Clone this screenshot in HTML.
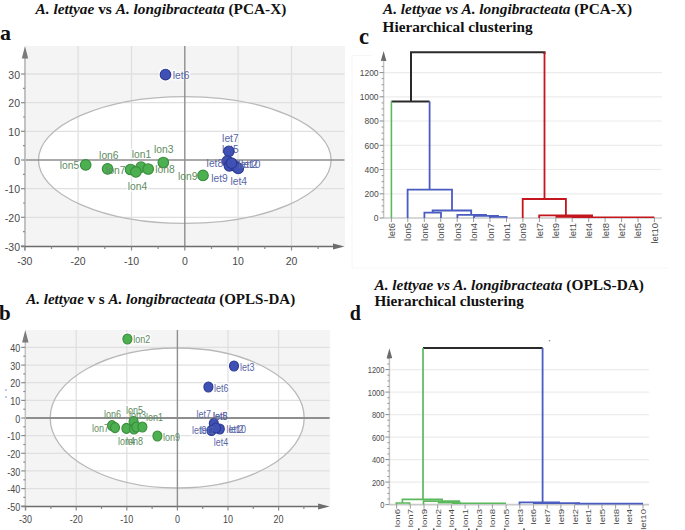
<!DOCTYPE html>
<html><head><meta charset="utf-8"><style>
html,body{margin:0;padding:0;background:#fff;}
svg{display:block;}
.tk{font-family:"Liberation Sans",sans-serif;fill:#4a4a4a;}
.pl{font-family:"Liberation Sans",sans-serif;}
.tt{font-family:"Liberation Serif",serif;font-weight:bold;fill:#111;}
.lab{font-family:"Liberation Serif",serif;font-weight:bold;fill:#111;}
</style></head><body>
<svg width="685" height="530" viewBox="0 0 685 530">
<rect x="25" y="46" width="320.0" height="200.5" fill="#f4f4f4"/>
<ellipse cx="184.8" cy="160" rx="146.3" ry="63.4" fill="#ffffff"/>
<line x1="78.1" y1="46" x2="78.1" y2="246.5" stroke="#e0e0e0" stroke-width="1.3"/>
<line x1="131.5" y1="46" x2="131.5" y2="246.5" stroke="#e0e0e0" stroke-width="1.3"/>
<line x1="238.1" y1="46" x2="238.1" y2="246.5" stroke="#e0e0e0" stroke-width="1.3"/>
<line x1="291.5" y1="46" x2="291.5" y2="246.5" stroke="#e0e0e0" stroke-width="1.3"/>
<line x1="25" y1="74.0" x2="344.5" y2="74.0" stroke="#e0e0e0" stroke-width="1.3"/>
<line x1="25" y1="102.7" x2="344.5" y2="102.7" stroke="#e0e0e0" stroke-width="1.3"/>
<line x1="25" y1="131.3" x2="344.5" y2="131.3" stroke="#e0e0e0" stroke-width="1.3"/>
<line x1="25" y1="188.7" x2="344.5" y2="188.7" stroke="#e0e0e0" stroke-width="1.3"/>
<line x1="25" y1="217.3" x2="344.5" y2="217.3" stroke="#e0e0e0" stroke-width="1.3"/>
<ellipse cx="165.5" cy="74.6" rx="7.199999999999999" ry="7.199999999999999" fill="#fff" opacity="0.75"/>
<ellipse cx="85.7" cy="164.9" rx="7.199999999999999" ry="7.199999999999999" fill="#fff" opacity="0.75"/>
<ellipse cx="107.6" cy="168.9" rx="7.199999999999999" ry="7.199999999999999" fill="#fff" opacity="0.75"/>
<ellipse cx="163.3" cy="162.5" rx="7.199999999999999" ry="7.199999999999999" fill="#fff" opacity="0.75"/>
<ellipse cx="130.6" cy="169.5" rx="7.199999999999999" ry="7.199999999999999" fill="#fff" opacity="0.75"/>
<ellipse cx="141.1" cy="167.2" rx="7.199999999999999" ry="7.199999999999999" fill="#fff" opacity="0.75"/>
<ellipse cx="148.2" cy="169" rx="7.199999999999999" ry="7.199999999999999" fill="#fff" opacity="0.75"/>
<ellipse cx="135.9" cy="171.9" rx="7.199999999999999" ry="7.199999999999999" fill="#fff" opacity="0.75"/>
<ellipse cx="203" cy="175.4" rx="7.199999999999999" ry="7.199999999999999" fill="#fff" opacity="0.75"/>
<ellipse cx="228.9" cy="151.3" rx="7.199999999999999" ry="7.199999999999999" fill="#fff" opacity="0.75"/>
<ellipse cx="227.3" cy="161.2" rx="7.199999999999999" ry="7.199999999999999" fill="#fff" opacity="0.75"/>
<ellipse cx="229.4" cy="165.8" rx="7.199999999999999" ry="7.199999999999999" fill="#fff" opacity="0.75"/>
<ellipse cx="235" cy="165.8" rx="7.199999999999999" ry="7.199999999999999" fill="#fff" opacity="0.75"/>
<ellipse cx="238.2" cy="168.4" rx="7.199999999999999" ry="7.199999999999999" fill="#fff" opacity="0.75"/>
<ellipse cx="231.5" cy="163.2" rx="7.199999999999999" ry="7.199999999999999" fill="#fff" opacity="0.75"/>
<text x="172.8" y="78.9" class="pl" font-size="10.3" fill="#fff" stroke="#fff" stroke-width="3" opacity="0.75">let6</text>
<text x="59.7" y="169.1" class="pl" font-size="10.3" fill="#fff" stroke="#fff" stroke-width="3" opacity="0.75">lon5</text>
<text x="99.1" y="159.2" class="pl" font-size="10.3" fill="#fff" stroke="#fff" stroke-width="3" opacity="0.75">lon6</text>
<text x="106.1" y="173.8" class="pl" font-size="10.3" fill="#fff" stroke="#fff" stroke-width="3" opacity="0.75">lon7</text>
<text x="131.8" y="158.0" class="pl" font-size="10.3" fill="#fff" stroke="#fff" stroke-width="3" opacity="0.75">lon1</text>
<text x="127.7" y="190.2" class="pl" font-size="10.3" fill="#fff" stroke="#fff" stroke-width="3" opacity="0.75">lon4</text>
<text x="154.0" y="152.8" class="pl" font-size="10.3" fill="#fff" stroke="#fff" stroke-width="3" opacity="0.75">lon3</text>
<text x="155.2" y="172.7" class="pl" font-size="10.3" fill="#fff" stroke="#fff" stroke-width="3" opacity="0.75">lon8</text>
<text x="178.0" y="180.1" class="pl" font-size="10.3" fill="#fff" stroke="#fff" stroke-width="3" opacity="0.75">lon9</text>
<text x="211.2" y="181.6" class="pl" font-size="10.3" fill="#fff" stroke="#fff" stroke-width="3" opacity="0.75">let9</text>
<text x="222.1" y="141.6" class="pl" font-size="10.3" fill="#fff" stroke="#fff" stroke-width="3" opacity="0.75">let7</text>
<text x="222.1" y="152.6" class="pl" font-size="10.3" fill="#fff" stroke="#fff" stroke-width="3" opacity="0.75">let5</text>
<text x="206.6" y="166.5" class="pl" font-size="10.3" fill="#fff" stroke="#fff" stroke-width="3" opacity="0.75">let8</text>
<text x="230.4" y="184.7" class="pl" font-size="10.3" fill="#fff" stroke="#fff" stroke-width="3" opacity="0.75">let4</text>
<text x="238.2" y="168.1" class="pl" font-size="10.3" fill="#fff" stroke="#fff" stroke-width="3" opacity="0.75">let10</text>
<text x="241.0" y="168.1" class="pl" font-size="10.3" fill="#fff" stroke="#fff" stroke-width="3" opacity="0.75">let2</text>
<ellipse cx="184.8" cy="160" rx="146.3" ry="63.4" fill="none" stroke="#b9b9b9" stroke-width="1.3"/>
<line x1="25" y1="160.0" x2="344.5" y2="160.0" stroke="#8e8e8e" stroke-width="1.3"/>
<line x1="184.8" y1="46" x2="184.8" y2="246.5" stroke="#8e8e8e" stroke-width="1.4"/>
<line x1="25" y1="250.5" x2="25" y2="54" stroke="#c2c2c2" stroke-width="2"/>
<polygon points="21.8,58.5 25,46 28.2,58.5" fill="#7a7a7a"/>
<line x1="21" y1="246.5" x2="336.5" y2="246.5" stroke="#6c6c6c" stroke-width="1.4"/>
<polygon points="333.0,243.4 344.5,246.5 333.0,249.6" fill="#6c6c6c"/>
<line x1="21" y1="74.0" x2="25" y2="74.0" stroke="#8a8a8a" stroke-width="1.2"/>
<text x="20.0" y="78.6" text-anchor="end" class="tk" font-size="10.5">30</text>
<line x1="21" y1="102.7" x2="25" y2="102.7" stroke="#8a8a8a" stroke-width="1.2"/>
<text x="20.0" y="107.2" text-anchor="end" class="tk" font-size="10.5">20</text>
<line x1="21" y1="131.3" x2="25" y2="131.3" stroke="#8a8a8a" stroke-width="1.2"/>
<text x="20.0" y="135.9" text-anchor="end" class="tk" font-size="10.5">10</text>
<line x1="21" y1="160.0" x2="25" y2="160.0" stroke="#8a8a8a" stroke-width="1.2"/>
<text x="20.0" y="164.6" text-anchor="end" class="tk" font-size="10.5">0</text>
<line x1="21" y1="188.7" x2="25" y2="188.7" stroke="#8a8a8a" stroke-width="1.2"/>
<text x="20.0" y="193.3" text-anchor="end" class="tk" font-size="10.5">-10</text>
<line x1="21" y1="217.3" x2="25" y2="217.3" stroke="#8a8a8a" stroke-width="1.2"/>
<text x="20.0" y="221.9" text-anchor="end" class="tk" font-size="10.5">-20</text>
<line x1="21" y1="246.0" x2="25" y2="246.0" stroke="#8a8a8a" stroke-width="1.2"/>
<text x="20.0" y="250.6" text-anchor="end" class="tk" font-size="10.5">-30</text>
<line x1="23" y1="88.3" x2="25" y2="88.3" stroke="#8a8a8a" stroke-width="1.2"/>
<line x1="23" y1="117.0" x2="25" y2="117.0" stroke="#8a8a8a" stroke-width="1.2"/>
<line x1="23" y1="145.7" x2="25" y2="145.7" stroke="#8a8a8a" stroke-width="1.2"/>
<line x1="23" y1="174.3" x2="25" y2="174.3" stroke="#8a8a8a" stroke-width="1.2"/>
<line x1="23" y1="203.0" x2="25" y2="203.0" stroke="#8a8a8a" stroke-width="1.2"/>
<line x1="23" y1="231.7" x2="25" y2="231.7" stroke="#8a8a8a" stroke-width="1.2"/>
<line x1="24.8" y1="246.5" x2="24.8" y2="250.5" stroke="#8a8a8a" stroke-width="1.2"/>
<text x="24.8" y="265.0" text-anchor="middle" class="tk" font-size="10.5">-30</text>
<line x1="78.1" y1="246.5" x2="78.1" y2="250.5" stroke="#8a8a8a" stroke-width="1.2"/>
<text x="78.1" y="265.0" text-anchor="middle" class="tk" font-size="10.5">-20</text>
<line x1="131.5" y1="246.5" x2="131.5" y2="250.5" stroke="#8a8a8a" stroke-width="1.2"/>
<text x="131.5" y="265.0" text-anchor="middle" class="tk" font-size="10.5">-10</text>
<line x1="184.8" y1="246.5" x2="184.8" y2="250.5" stroke="#8a8a8a" stroke-width="1.2"/>
<text x="184.8" y="265.0" text-anchor="middle" class="tk" font-size="10.5">0</text>
<line x1="238.1" y1="246.5" x2="238.1" y2="250.5" stroke="#8a8a8a" stroke-width="1.2"/>
<text x="238.1" y="265.0" text-anchor="middle" class="tk" font-size="10.5">10</text>
<line x1="291.5" y1="246.5" x2="291.5" y2="250.5" stroke="#8a8a8a" stroke-width="1.2"/>
<text x="291.5" y="265.0" text-anchor="middle" class="tk" font-size="10.5">20</text>
<line x1="51.5" y1="246.5" x2="51.5" y2="249.0" stroke="#8a8a8a" stroke-width="1.2"/>
<line x1="104.8" y1="246.5" x2="104.8" y2="249.0" stroke="#8a8a8a" stroke-width="1.2"/>
<line x1="158.1" y1="246.5" x2="158.1" y2="249.0" stroke="#8a8a8a" stroke-width="1.2"/>
<line x1="211.5" y1="246.5" x2="211.5" y2="249.0" stroke="#8a8a8a" stroke-width="1.2"/>
<line x1="264.8" y1="246.5" x2="264.8" y2="249.0" stroke="#8a8a8a" stroke-width="1.2"/>
<line x1="318.1" y1="246.5" x2="318.1" y2="249.0" stroke="#8a8a8a" stroke-width="1.2"/>
<text x="222.1" y="152.6" class="pl" font-size="10.3" fill="#5a66a6">let5</text>
<ellipse cx="165.5" cy="74.6" rx="5.3" ry="5.3" fill="#3f51b5" stroke="#2c3a92" stroke-width="1.1"/>
<ellipse cx="85.7" cy="164.9" rx="5.3" ry="5.3" fill="#4caf50" stroke="#3a8c3d" stroke-width="1.1"/>
<ellipse cx="107.6" cy="168.9" rx="5.3" ry="5.3" fill="#4caf50" stroke="#3a8c3d" stroke-width="1.1"/>
<ellipse cx="163.3" cy="162.5" rx="5.3" ry="5.3" fill="#4caf50" stroke="#3a8c3d" stroke-width="1.1"/>
<ellipse cx="130.6" cy="169.5" rx="5.3" ry="5.3" fill="#4caf50" stroke="#3a8c3d" stroke-width="1.1"/>
<ellipse cx="141.1" cy="167.2" rx="5.3" ry="5.3" fill="#4caf50" stroke="#3a8c3d" stroke-width="1.1"/>
<ellipse cx="148.2" cy="169" rx="5.3" ry="5.3" fill="#4caf50" stroke="#3a8c3d" stroke-width="1.1"/>
<ellipse cx="135.9" cy="171.9" rx="5.3" ry="5.3" fill="#4caf50" stroke="#3a8c3d" stroke-width="1.1"/>
<ellipse cx="203" cy="175.4" rx="5.3" ry="5.3" fill="#4caf50" stroke="#3a8c3d" stroke-width="1.1"/>
<ellipse cx="228.9" cy="151.3" rx="5.3" ry="5.3" fill="#3f51b5" stroke="#2c3a92" stroke-width="1.1"/>
<ellipse cx="227.3" cy="161.2" rx="5.3" ry="5.3" fill="#3f51b5" stroke="#2c3a92" stroke-width="1.1"/>
<ellipse cx="229.4" cy="165.8" rx="5.3" ry="5.3" fill="#3f51b5" stroke="#2c3a92" stroke-width="1.1"/>
<ellipse cx="235" cy="165.8" rx="5.3" ry="5.3" fill="#3f51b5" stroke="#2c3a92" stroke-width="1.1"/>
<ellipse cx="238.2" cy="168.4" rx="5.3" ry="5.3" fill="#3f51b5" stroke="#2c3a92" stroke-width="1.1"/>
<ellipse cx="231.5" cy="163.2" rx="5.3" ry="5.3" fill="#3f51b5" stroke="#2c3a92" stroke-width="1.1"/>
<text x="172.8" y="78.9" class="pl" font-size="10.3" fill="#5a66a6">let6</text>
<text x="59.7" y="169.1" class="pl" font-size="10.3" fill="#5f8c62">lon5</text>
<text x="99.1" y="159.2" class="pl" font-size="10.3" fill="#5f8c62">lon6</text>
<text x="106.1" y="173.8" class="pl" font-size="10.3" fill="#5f8c62">lon7</text>
<text x="131.8" y="158.0" class="pl" font-size="10.3" fill="#5f8c62">lon1</text>
<text x="127.7" y="190.2" class="pl" font-size="10.3" fill="#5f8c62">lon4</text>
<text x="154.0" y="152.8" class="pl" font-size="10.3" fill="#5f8c62">lon3</text>
<text x="155.2" y="172.7" class="pl" font-size="10.3" fill="#5f8c62">lon8</text>
<text x="178.0" y="180.1" class="pl" font-size="10.3" fill="#5f8c62">lon9</text>
<text x="211.2" y="181.6" class="pl" font-size="10.3" fill="#5a66a6">let9</text>
<text x="222.1" y="141.6" class="pl" font-size="10.3" fill="#5a66a6">let7</text>
<text x="206.6" y="166.5" class="pl" font-size="10.3" fill="#5a66a6">let8</text>
<text x="230.4" y="184.7" class="pl" font-size="10.3" fill="#5a66a6">let4</text>
<text x="238.2" y="168.1" class="pl" font-size="10.3" fill="#5a66a6">let10</text>
<text x="241.0" y="168.1" class="pl" font-size="10.3" fill="#5a66a6">let2</text>
<rect x="25.3" y="330" width="304.8" height="176.5" fill="#f4f4f4"/>
<ellipse cx="177.2" cy="418" rx="127" ry="70" fill="#ffffff"/>
<line x1="76.2" y1="330" x2="76.2" y2="506.5" stroke="#e0e0e0" stroke-width="1.3"/>
<line x1="126.8" y1="330" x2="126.8" y2="506.5" stroke="#e0e0e0" stroke-width="1.3"/>
<line x1="228.0" y1="330" x2="228.0" y2="506.5" stroke="#e0e0e0" stroke-width="1.3"/>
<line x1="278.6" y1="330" x2="278.6" y2="506.5" stroke="#e0e0e0" stroke-width="1.3"/>
<line x1="25.3" y1="347.4" x2="329.6" y2="347.4" stroke="#e0e0e0" stroke-width="1.3"/>
<line x1="25.3" y1="365.1" x2="329.6" y2="365.1" stroke="#e0e0e0" stroke-width="1.3"/>
<line x1="25.3" y1="382.7" x2="329.6" y2="382.7" stroke="#e0e0e0" stroke-width="1.3"/>
<line x1="25.3" y1="400.4" x2="329.6" y2="400.4" stroke="#e0e0e0" stroke-width="1.3"/>
<line x1="25.3" y1="435.6" x2="329.6" y2="435.6" stroke="#e0e0e0" stroke-width="1.3"/>
<line x1="25.3" y1="453.3" x2="329.6" y2="453.3" stroke="#e0e0e0" stroke-width="1.3"/>
<line x1="25.3" y1="470.9" x2="329.6" y2="470.9" stroke="#e0e0e0" stroke-width="1.3"/>
<line x1="25.3" y1="488.6" x2="329.6" y2="488.6" stroke="#e0e0e0" stroke-width="1.3"/>
<ellipse cx="127.4" cy="339" rx="6.4" ry="6.9" fill="#fff" opacity="0.75"/>
<ellipse cx="234" cy="366" rx="6.4" ry="6.9" fill="#fff" opacity="0.75"/>
<ellipse cx="208.4" cy="387" rx="6.4" ry="6.9" fill="#fff" opacity="0.75"/>
<ellipse cx="112" cy="425.6" rx="6.4" ry="6.9" fill="#fff" opacity="0.75"/>
<ellipse cx="115" cy="427.6" rx="6.4" ry="6.9" fill="#fff" opacity="0.75"/>
<ellipse cx="126.4" cy="428.4" rx="6.4" ry="6.9" fill="#fff" opacity="0.75"/>
<ellipse cx="133.6" cy="421.6" rx="6.4" ry="6.9" fill="#fff" opacity="0.75"/>
<ellipse cx="134" cy="429" rx="6.4" ry="6.9" fill="#fff" opacity="0.75"/>
<ellipse cx="136.4" cy="427" rx="6.4" ry="6.9" fill="#fff" opacity="0.75"/>
<ellipse cx="142.4" cy="427" rx="6.4" ry="6.9" fill="#fff" opacity="0.75"/>
<ellipse cx="157.4" cy="436" rx="6.4" ry="6.9" fill="#fff" opacity="0.75"/>
<ellipse cx="213.8" cy="423.5" rx="6.4" ry="6.9" fill="#fff" opacity="0.75"/>
<ellipse cx="211.5" cy="430.5" rx="6.4" ry="6.9" fill="#fff" opacity="0.75"/>
<ellipse cx="219.8" cy="429" rx="6.4" ry="6.9" fill="#fff" opacity="0.75"/>
<ellipse cx="216" cy="428" rx="6.4" ry="6.9" fill="#fff" opacity="0.75"/>
<text transform="translate(133.2,342.8) scale(1,1.18)" class="pl" font-size="9" fill="#fff" stroke="#fff" stroke-width="3" opacity="0.75">lon2</text>
<text transform="translate(240.0,371.2) scale(1,1.18)" class="pl" font-size="9" fill="#fff" stroke="#fff" stroke-width="3" opacity="0.75">let3</text>
<text transform="translate(214.0,391.8) scale(1,1.18)" class="pl" font-size="9" fill="#fff" stroke="#fff" stroke-width="3" opacity="0.75">let6</text>
<text transform="translate(104.0,418.4) scale(1,1.18)" class="pl" font-size="9" fill="#fff" stroke="#fff" stroke-width="3" opacity="0.75">lon6</text>
<text transform="translate(126.0,413.8) scale(1,1.18)" class="pl" font-size="9" fill="#fff" stroke="#fff" stroke-width="3" opacity="0.75">lon5</text>
<text transform="translate(129.0,418.8) scale(1,1.18)" class="pl" font-size="9" fill="#fff" stroke="#fff" stroke-width="3" opacity="0.75">lon3</text>
<text transform="translate(146.0,420.8) scale(1,1.18)" class="pl" font-size="9" fill="#fff" stroke="#fff" stroke-width="3" opacity="0.75">lon1</text>
<text transform="translate(92.0,431.8) scale(1,1.18)" class="pl" font-size="9" fill="#fff" stroke="#fff" stroke-width="3" opacity="0.75">lon7</text>
<text transform="translate(118.0,445.4) scale(1,1.18)" class="pl" font-size="9" fill="#fff" stroke="#fff" stroke-width="3" opacity="0.75">lon4</text>
<text transform="translate(126.0,445.4) scale(1,1.18)" class="pl" font-size="9" fill="#fff" stroke="#fff" stroke-width="3" opacity="0.75">lon8</text>
<text transform="translate(163.0,440.8) scale(1,1.18)" class="pl" font-size="9" fill="#fff" stroke="#fff" stroke-width="3" opacity="0.75">lon9</text>
<text transform="translate(196.4,417.8) scale(1,1.18)" class="pl" font-size="9" fill="#fff" stroke="#fff" stroke-width="3" opacity="0.75">let7</text>
<text transform="translate(213.0,419.8) scale(1,1.18)" class="pl" font-size="9" fill="#fff" stroke="#fff" stroke-width="3" opacity="0.75">let8</text>
<text transform="translate(213.0,419.8) scale(1,1.18)" class="pl" font-size="9" fill="#fff" stroke="#fff" stroke-width="3" opacity="0.75">let5</text>
<text transform="translate(192.0,434.3) scale(1,1.18)" class="pl" font-size="9" fill="#fff" stroke="#fff" stroke-width="3" opacity="0.75">let9</text>
<text transform="translate(200.0,434.3) scale(1,1.18)" class="pl" font-size="9" fill="#fff" stroke="#fff" stroke-width="3" opacity="0.75">let1</text>
<text transform="translate(226.6,432.8) scale(1,1.18)" class="pl" font-size="9" fill="#fff" stroke="#fff" stroke-width="3" opacity="0.75">let10</text>
<text transform="translate(229.0,432.8) scale(1,1.18)" class="pl" font-size="9" fill="#fff" stroke="#fff" stroke-width="3" opacity="0.75">let2</text>
<text transform="translate(213.8,446.4) scale(1,1.18)" class="pl" font-size="9" fill="#fff" stroke="#fff" stroke-width="3" opacity="0.75">let4</text>
<ellipse cx="177.2" cy="418" rx="127" ry="70" fill="none" stroke="#b9b9b9" stroke-width="1.3"/>
<line x1="25.3" y1="418.0" x2="329.6" y2="418.0" stroke="#8e8e8e" stroke-width="2.2"/>
<line x1="177.4" y1="330" x2="177.4" y2="506.5" stroke="#8e8e8e" stroke-width="1.4"/>
<line x1="25.3" y1="510.5" x2="25.3" y2="338" stroke="#c2c2c2" stroke-width="1.5"/>
<polygon points="22.1,342.5 25.3,330 28.5,342.5" fill="#7a7a7a"/>
<line x1="21.3" y1="506.5" x2="321.6" y2="506.5" stroke="#6c6c6c" stroke-width="1.4"/>
<polygon points="318.1,503.4 329.6,506.5 318.1,509.6" fill="#6c6c6c"/>
<line x1="21.3" y1="347.4" x2="25.3" y2="347.4" stroke="#8a8a8a" stroke-width="1.2"/>
<text transform="translate(20.3,352.0) scale(1,1.18)" text-anchor="end" class="tk" font-size="9">40</text>
<line x1="21.3" y1="365.1" x2="25.3" y2="365.1" stroke="#8a8a8a" stroke-width="1.2"/>
<text transform="translate(20.3,369.7) scale(1,1.18)" text-anchor="end" class="tk" font-size="9">30</text>
<line x1="21.3" y1="382.7" x2="25.3" y2="382.7" stroke="#8a8a8a" stroke-width="1.2"/>
<text transform="translate(20.3,387.3) scale(1,1.18)" text-anchor="end" class="tk" font-size="9">20</text>
<line x1="21.3" y1="400.4" x2="25.3" y2="400.4" stroke="#8a8a8a" stroke-width="1.2"/>
<text transform="translate(20.3,405.0) scale(1,1.18)" text-anchor="end" class="tk" font-size="9">10</text>
<line x1="21.3" y1="418.0" x2="25.3" y2="418.0" stroke="#8a8a8a" stroke-width="1.2"/>
<text transform="translate(20.3,422.6) scale(1,1.18)" text-anchor="end" class="tk" font-size="9">0</text>
<line x1="21.3" y1="435.6" x2="25.3" y2="435.6" stroke="#8a8a8a" stroke-width="1.2"/>
<text transform="translate(20.3,440.3) scale(1,1.18)" text-anchor="end" class="tk" font-size="9">-10</text>
<line x1="21.3" y1="453.3" x2="25.3" y2="453.3" stroke="#8a8a8a" stroke-width="1.2"/>
<text transform="translate(20.3,457.9) scale(1,1.18)" text-anchor="end" class="tk" font-size="9">-20</text>
<line x1="21.3" y1="470.9" x2="25.3" y2="470.9" stroke="#8a8a8a" stroke-width="1.2"/>
<text transform="translate(20.3,475.6) scale(1,1.18)" text-anchor="end" class="tk" font-size="9">-30</text>
<line x1="21.3" y1="488.6" x2="25.3" y2="488.6" stroke="#8a8a8a" stroke-width="1.2"/>
<text transform="translate(20.3,493.2) scale(1,1.18)" text-anchor="end" class="tk" font-size="9">-40</text>
<line x1="21.3" y1="506.2" x2="25.3" y2="506.2" stroke="#8a8a8a" stroke-width="1.2"/>
<text transform="translate(20.3,510.9) scale(1,1.18)" text-anchor="end" class="tk" font-size="9">-50</text>
<line x1="23.3" y1="338.6" x2="25.3" y2="338.6" stroke="#8a8a8a" stroke-width="1.2"/>
<line x1="23.3" y1="356.2" x2="25.3" y2="356.2" stroke="#8a8a8a" stroke-width="1.2"/>
<line x1="23.3" y1="373.9" x2="25.3" y2="373.9" stroke="#8a8a8a" stroke-width="1.2"/>
<line x1="23.3" y1="391.5" x2="25.3" y2="391.5" stroke="#8a8a8a" stroke-width="1.2"/>
<line x1="23.3" y1="409.2" x2="25.3" y2="409.2" stroke="#8a8a8a" stroke-width="1.2"/>
<line x1="23.3" y1="426.8" x2="25.3" y2="426.8" stroke="#8a8a8a" stroke-width="1.2"/>
<line x1="23.3" y1="444.5" x2="25.3" y2="444.5" stroke="#8a8a8a" stroke-width="1.2"/>
<line x1="23.3" y1="462.1" x2="25.3" y2="462.1" stroke="#8a8a8a" stroke-width="1.2"/>
<line x1="23.3" y1="479.8" x2="25.3" y2="479.8" stroke="#8a8a8a" stroke-width="1.2"/>
<line x1="23.3" y1="497.4" x2="25.3" y2="497.4" stroke="#8a8a8a" stroke-width="1.2"/>
<line x1="25.6" y1="506.5" x2="25.6" y2="510.5" stroke="#8a8a8a" stroke-width="1.2"/>
<text transform="translate(25.6,523.4) scale(1,1.18)" text-anchor="middle" class="tk" font-size="9">-30</text>
<line x1="76.2" y1="506.5" x2="76.2" y2="510.5" stroke="#8a8a8a" stroke-width="1.2"/>
<text transform="translate(76.2,523.4) scale(1,1.18)" text-anchor="middle" class="tk" font-size="9">-20</text>
<line x1="126.8" y1="506.5" x2="126.8" y2="510.5" stroke="#8a8a8a" stroke-width="1.2"/>
<text transform="translate(126.8,523.4) scale(1,1.18)" text-anchor="middle" class="tk" font-size="9">-10</text>
<line x1="177.4" y1="506.5" x2="177.4" y2="510.5" stroke="#8a8a8a" stroke-width="1.2"/>
<text transform="translate(177.4,523.4) scale(1,1.18)" text-anchor="middle" class="tk" font-size="9">0</text>
<line x1="228.0" y1="506.5" x2="228.0" y2="510.5" stroke="#8a8a8a" stroke-width="1.2"/>
<text transform="translate(228.0,523.4) scale(1,1.18)" text-anchor="middle" class="tk" font-size="9">10</text>
<line x1="278.6" y1="506.5" x2="278.6" y2="510.5" stroke="#8a8a8a" stroke-width="1.2"/>
<text transform="translate(278.6,523.4) scale(1,1.18)" text-anchor="middle" class="tk" font-size="9">20</text>
<line x1="50.9" y1="506.5" x2="50.9" y2="509.0" stroke="#8a8a8a" stroke-width="1.2"/>
<line x1="101.5" y1="506.5" x2="101.5" y2="509.0" stroke="#8a8a8a" stroke-width="1.2"/>
<line x1="152.1" y1="506.5" x2="152.1" y2="509.0" stroke="#8a8a8a" stroke-width="1.2"/>
<line x1="202.7" y1="506.5" x2="202.7" y2="509.0" stroke="#8a8a8a" stroke-width="1.2"/>
<line x1="253.3" y1="506.5" x2="253.3" y2="509.0" stroke="#8a8a8a" stroke-width="1.2"/>
<line x1="303.9" y1="506.5" x2="303.9" y2="509.0" stroke="#8a8a8a" stroke-width="1.2"/>
<ellipse cx="127.4" cy="339" rx="4.5" ry="5.0" fill="#4caf50" stroke="#3a8c3d" stroke-width="1.1"/>
<ellipse cx="234" cy="366" rx="4.5" ry="5.0" fill="#3f51b5" stroke="#2c3a92" stroke-width="1.1"/>
<ellipse cx="208.4" cy="387" rx="4.5" ry="5.0" fill="#3f51b5" stroke="#2c3a92" stroke-width="1.1"/>
<ellipse cx="112" cy="425.6" rx="4.5" ry="5.0" fill="#4caf50" stroke="#3a8c3d" stroke-width="1.1"/>
<ellipse cx="115" cy="427.6" rx="4.5" ry="5.0" fill="#4caf50" stroke="#3a8c3d" stroke-width="1.1"/>
<ellipse cx="126.4" cy="428.4" rx="4.5" ry="5.0" fill="#4caf50" stroke="#3a8c3d" stroke-width="1.1"/>
<ellipse cx="133.6" cy="421.6" rx="4.5" ry="5.0" fill="#4caf50" stroke="#3a8c3d" stroke-width="1.1"/>
<ellipse cx="134" cy="429" rx="4.5" ry="5.0" fill="#4caf50" stroke="#3a8c3d" stroke-width="1.1"/>
<ellipse cx="136.4" cy="427" rx="4.5" ry="5.0" fill="#4caf50" stroke="#3a8c3d" stroke-width="1.1"/>
<ellipse cx="142.4" cy="427" rx="4.5" ry="5.0" fill="#4caf50" stroke="#3a8c3d" stroke-width="1.1"/>
<ellipse cx="157.4" cy="436" rx="4.5" ry="5.0" fill="#4caf50" stroke="#3a8c3d" stroke-width="1.1"/>
<ellipse cx="213.8" cy="423.5" rx="4.5" ry="5.0" fill="#3f51b5" stroke="#2c3a92" stroke-width="1.1"/>
<ellipse cx="211.5" cy="430.5" rx="4.5" ry="5.0" fill="#3f51b5" stroke="#2c3a92" stroke-width="1.1"/>
<ellipse cx="219.8" cy="429" rx="4.5" ry="5.0" fill="#3f51b5" stroke="#2c3a92" stroke-width="1.1"/>
<ellipse cx="216" cy="428" rx="4.5" ry="5.0" fill="#3f51b5" stroke="#2c3a92" stroke-width="1.1"/>
<text transform="translate(133.2,342.8) scale(1,1.18)" class="pl" font-size="9" fill="#5f8c62">lon2</text>
<text transform="translate(240.0,371.2) scale(1,1.18)" class="pl" font-size="9" fill="#5a66a6">let3</text>
<text transform="translate(214.0,391.8) scale(1,1.18)" class="pl" font-size="9" fill="#5a66a6">let6</text>
<text transform="translate(104.0,418.4) scale(1,1.18)" class="pl" font-size="9" fill="#5f8c62">lon6</text>
<text transform="translate(126.0,413.8) scale(1,1.18)" class="pl" font-size="9" fill="#5f8c62">lon5</text>
<text transform="translate(129.0,418.8) scale(1,1.18)" class="pl" font-size="9" fill="#5f8c62">lon3</text>
<text transform="translate(146.0,420.8) scale(1,1.18)" class="pl" font-size="9" fill="#5f8c62">lon1</text>
<text transform="translate(92.0,431.8) scale(1,1.18)" class="pl" font-size="9" fill="#5f8c62">lon7</text>
<text transform="translate(118.0,445.4) scale(1,1.18)" class="pl" font-size="9" fill="#5f8c62">lon4</text>
<text transform="translate(126.0,445.4) scale(1,1.18)" class="pl" font-size="9" fill="#5f8c62">lon8</text>
<text transform="translate(163.0,440.8) scale(1,1.18)" class="pl" font-size="9" fill="#5f8c62">lon9</text>
<text transform="translate(196.4,417.8) scale(1,1.18)" class="pl" font-size="9" fill="#5a66a6">let7</text>
<text transform="translate(213.0,419.8) scale(1,1.18)" class="pl" font-size="9" fill="#5a66a6">let8</text>
<text transform="translate(213.0,419.8) scale(1,1.18)" class="pl" font-size="9" fill="#5a66a6">let5</text>
<text transform="translate(192.0,434.3) scale(1,1.18)" class="pl" font-size="9" fill="#5a66a6">let9</text>
<text transform="translate(200.0,434.3) scale(1,1.18)" class="pl" font-size="9" fill="#5a66a6">let1</text>
<text transform="translate(226.6,432.8) scale(1,1.18)" class="pl" font-size="9" fill="#5a66a6">let10</text>
<text transform="translate(229.0,432.8) scale(1,1.18)" class="pl" font-size="9" fill="#5a66a6">let2</text>
<text transform="translate(213.8,446.4) scale(1,1.18)" class="pl" font-size="9" fill="#5a66a6">let4</text>
<line x1="383.6" y1="72.6" x2="662" y2="72.6" stroke="#ececec" stroke-width="1.2"/>
<line x1="383.6" y1="96.8" x2="662" y2="96.8" stroke="#ececec" stroke-width="1.2"/>
<line x1="383.6" y1="121.0" x2="662" y2="121.0" stroke="#ececec" stroke-width="1.2"/>
<line x1="383.6" y1="145.3" x2="662" y2="145.3" stroke="#ececec" stroke-width="1.2"/>
<line x1="383.6" y1="169.5" x2="662" y2="169.5" stroke="#ececec" stroke-width="1.2"/>
<line x1="383.6" y1="193.8" x2="662" y2="193.8" stroke="#ececec" stroke-width="1.2"/>
<line x1="383.6" y1="218" x2="662" y2="218" stroke="#cacaca" stroke-width="1.6"/>
<line x1="383.6" y1="218" x2="383.6" y2="57" stroke="#c4c4c4" stroke-width="1.5"/>
<polygon points="380.8,61 383.6,51 386.40000000000003,61" fill="#6a6a6a"/>
<line x1="379.6" y1="72.6" x2="383.6" y2="72.6" stroke="#8a8a8a" stroke-width="1"/>
<text transform="translate(378.6,75.9) scale(1,1.1)" text-anchor="end" class="tk" font-size="8.5">1200</text>
<line x1="379.6" y1="96.8" x2="383.6" y2="96.8" stroke="#8a8a8a" stroke-width="1"/>
<text transform="translate(378.6,100.2) scale(1,1.1)" text-anchor="end" class="tk" font-size="8.5">1000</text>
<line x1="379.6" y1="121.0" x2="383.6" y2="121.0" stroke="#8a8a8a" stroke-width="1"/>
<text transform="translate(378.6,124.4) scale(1,1.1)" text-anchor="end" class="tk" font-size="8.5">800</text>
<line x1="379.6" y1="145.3" x2="383.6" y2="145.3" stroke="#8a8a8a" stroke-width="1"/>
<text transform="translate(378.6,148.6) scale(1,1.1)" text-anchor="end" class="tk" font-size="8.5">600</text>
<line x1="379.6" y1="169.5" x2="383.6" y2="169.5" stroke="#8a8a8a" stroke-width="1"/>
<text transform="translate(378.6,172.9) scale(1,1.1)" text-anchor="end" class="tk" font-size="8.5">400</text>
<line x1="379.6" y1="193.8" x2="383.6" y2="193.8" stroke="#8a8a8a" stroke-width="1"/>
<text transform="translate(378.6,197.1) scale(1,1.1)" text-anchor="end" class="tk" font-size="8.5">200</text>
<line x1="379.6" y1="218.0" x2="383.6" y2="218.0" stroke="#8a8a8a" stroke-width="1"/>
<text transform="translate(378.6,221.4) scale(1,1.1)" text-anchor="end" class="tk" font-size="8.5">0</text>
<line x1="381.6" y1="211.9" x2="383.6" y2="211.9" stroke="#8a8a8a" stroke-width="0.9"/>
<line x1="381.6" y1="205.9" x2="383.6" y2="205.9" stroke="#8a8a8a" stroke-width="0.9"/>
<line x1="381.6" y1="199.8" x2="383.6" y2="199.8" stroke="#8a8a8a" stroke-width="0.9"/>
<line x1="381.6" y1="187.7" x2="383.6" y2="187.7" stroke="#8a8a8a" stroke-width="0.9"/>
<line x1="381.6" y1="181.6" x2="383.6" y2="181.6" stroke="#8a8a8a" stroke-width="0.9"/>
<line x1="381.6" y1="175.6" x2="383.6" y2="175.6" stroke="#8a8a8a" stroke-width="0.9"/>
<line x1="381.6" y1="163.5" x2="383.6" y2="163.5" stroke="#8a8a8a" stroke-width="0.9"/>
<line x1="381.6" y1="157.4" x2="383.6" y2="157.4" stroke="#8a8a8a" stroke-width="0.9"/>
<line x1="381.6" y1="151.3" x2="383.6" y2="151.3" stroke="#8a8a8a" stroke-width="0.9"/>
<line x1="381.6" y1="139.2" x2="383.6" y2="139.2" stroke="#8a8a8a" stroke-width="0.9"/>
<line x1="381.6" y1="133.2" x2="383.6" y2="133.2" stroke="#8a8a8a" stroke-width="0.9"/>
<line x1="381.6" y1="127.1" x2="383.6" y2="127.1" stroke="#8a8a8a" stroke-width="0.9"/>
<line x1="381.6" y1="115.0" x2="383.6" y2="115.0" stroke="#8a8a8a" stroke-width="0.9"/>
<line x1="381.6" y1="108.9" x2="383.6" y2="108.9" stroke="#8a8a8a" stroke-width="0.9"/>
<line x1="381.6" y1="102.9" x2="383.6" y2="102.9" stroke="#8a8a8a" stroke-width="0.9"/>
<line x1="381.6" y1="90.7" x2="383.6" y2="90.7" stroke="#8a8a8a" stroke-width="0.9"/>
<line x1="381.6" y1="84.7" x2="383.6" y2="84.7" stroke="#8a8a8a" stroke-width="0.9"/>
<line x1="381.6" y1="78.6" x2="383.6" y2="78.6" stroke="#8a8a8a" stroke-width="0.9"/>
<line x1="381.6" y1="66.5" x2="383.6" y2="66.5" stroke="#8a8a8a" stroke-width="0.9"/>
<line x1="381.6" y1="60.4" x2="383.6" y2="60.4" stroke="#8a8a8a" stroke-width="0.9"/>
<line x1="391.4" y1="218" x2="391.4" y2="222" stroke="#9a9a9a" stroke-width="1"/>
<text transform="translate(394.8,223) rotate(-90) scale(1,1)" text-anchor="end" class="tk" font-size="9.5">let6</text>
<line x1="407.8" y1="218" x2="407.8" y2="222" stroke="#9a9a9a" stroke-width="1"/>
<text transform="translate(411.3,223) rotate(-90) scale(1,1)" text-anchor="end" class="tk" font-size="9.5">lon5</text>
<line x1="424.3" y1="218" x2="424.3" y2="222" stroke="#9a9a9a" stroke-width="1"/>
<text transform="translate(427.7,223) rotate(-90) scale(1,1)" text-anchor="end" class="tk" font-size="9.5">lon6</text>
<line x1="440.7" y1="218" x2="440.7" y2="222" stroke="#9a9a9a" stroke-width="1"/>
<text transform="translate(444.1,223) rotate(-90) scale(1,1)" text-anchor="end" class="tk" font-size="9.5">lon8</text>
<line x1="457.2" y1="218" x2="457.2" y2="222" stroke="#9a9a9a" stroke-width="1"/>
<text transform="translate(460.6,223) rotate(-90) scale(1,1)" text-anchor="end" class="tk" font-size="9.5">lon3</text>
<line x1="473.6" y1="218" x2="473.6" y2="222" stroke="#9a9a9a" stroke-width="1"/>
<text transform="translate(477.0,223) rotate(-90) scale(1,1)" text-anchor="end" class="tk" font-size="9.5">lon4</text>
<line x1="490.0" y1="218" x2="490.0" y2="222" stroke="#9a9a9a" stroke-width="1"/>
<text transform="translate(493.5,223) rotate(-90) scale(1,1)" text-anchor="end" class="tk" font-size="9.5">lon7</text>
<line x1="506.5" y1="218" x2="506.5" y2="222" stroke="#9a9a9a" stroke-width="1"/>
<text transform="translate(509.9,223) rotate(-90) scale(1,1)" text-anchor="end" class="tk" font-size="9.5">lon1</text>
<line x1="522.9" y1="218" x2="522.9" y2="222" stroke="#9a9a9a" stroke-width="1"/>
<text transform="translate(526.3,223) rotate(-90) scale(1,1)" text-anchor="end" class="tk" font-size="9.5">lon9</text>
<line x1="539.4" y1="218" x2="539.4" y2="222" stroke="#9a9a9a" stroke-width="1"/>
<text transform="translate(542.8,223) rotate(-90) scale(1,1)" text-anchor="end" class="tk" font-size="9.5">let7</text>
<line x1="555.8" y1="218" x2="555.8" y2="222" stroke="#9a9a9a" stroke-width="1"/>
<text transform="translate(559.2,223) rotate(-90) scale(1,1)" text-anchor="end" class="tk" font-size="9.5">let9</text>
<line x1="572.2" y1="218" x2="572.2" y2="222" stroke="#9a9a9a" stroke-width="1"/>
<text transform="translate(575.7,223) rotate(-90) scale(1,1)" text-anchor="end" class="tk" font-size="9.5">let1</text>
<line x1="588.7" y1="218" x2="588.7" y2="222" stroke="#9a9a9a" stroke-width="1"/>
<text transform="translate(592.1,223) rotate(-90) scale(1,1)" text-anchor="end" class="tk" font-size="9.5">let4</text>
<line x1="605.1" y1="218" x2="605.1" y2="222" stroke="#9a9a9a" stroke-width="1"/>
<text transform="translate(608.5,223) rotate(-90) scale(1,1)" text-anchor="end" class="tk" font-size="9.5">let8</text>
<line x1="621.6" y1="218" x2="621.6" y2="222" stroke="#9a9a9a" stroke-width="1"/>
<text transform="translate(625.0,223) rotate(-90) scale(1,1)" text-anchor="end" class="tk" font-size="9.5">let2</text>
<line x1="638.0" y1="218" x2="638.0" y2="222" stroke="#9a9a9a" stroke-width="1"/>
<text transform="translate(641.4,223) rotate(-90) scale(1,1)" text-anchor="end" class="tk" font-size="9.5">let5</text>
<line x1="654.4" y1="218" x2="654.4" y2="222" stroke="#9a9a9a" stroke-width="1"/>
<text transform="translate(657.9,223) rotate(-90) scale(1,1)" text-anchor="end" class="tk" font-size="9.5">let10</text>
<polyline points="411.0,101.4 411.0,52.2 544.5,52.2 544.5,54.0" fill="none" stroke="#2a2a2a" stroke-width="2" stroke-linejoin="miter"/>
<polyline points="391.4,101.4 429.6,101.4" fill="none" stroke="#2a2a2a" stroke-width="2" stroke-linejoin="miter"/>
<polyline points="391.4,101.4 391.4,218.0" fill="none" stroke="#5cb85c" stroke-width="1.6" stroke-linejoin="miter"/>
<polyline points="429.6,101.4 429.6,189.6" fill="none" stroke="#4a5cc0" stroke-width="1.8" stroke-linejoin="miter"/>
<polyline points="407.6,218.0 407.6,189.6 452.0,189.6 452.0,210.5" fill="none" stroke="#4a5cc0" stroke-width="1.8" stroke-linejoin="miter"/>
<polyline points="432.6,212.6 432.6,210.5 471.2,210.5 471.2,214.8" fill="none" stroke="#4a5cc0" stroke-width="1.8" stroke-linejoin="miter"/>
<polyline points="424.4,218.0 424.4,212.6 441.0,212.6 441.0,218.0" fill="none" stroke="#4a5cc0" stroke-width="1.8" stroke-linejoin="miter"/>
<polyline points="457.4,218.0 457.4,214.8 486.0,214.8 486.0,215.8" fill="none" stroke="#4a5cc0" stroke-width="1.8" stroke-linejoin="miter"/>
<polyline points="474.0,218.0 474.0,215.8 498.0,215.8 498.0,216.8" fill="none" stroke="#4a5cc0" stroke-width="1.8" stroke-linejoin="miter"/>
<polyline points="490.0,218.0 490.0,216.8 506.6,216.8 506.6,218.0" fill="none" stroke="#4a5cc0" stroke-width="1.8" stroke-linejoin="miter"/>
<polyline points="544.5,52.2 544.5,199.0" fill="none" stroke="#c4161e" stroke-width="1.8" stroke-linejoin="miter"/>
<polyline points="522.7,218.0 522.7,199.0 565.9,199.0 565.9,215.4" fill="none" stroke="#c4161e" stroke-width="1.8" stroke-linejoin="miter"/>
<polyline points="539.2,218.0 539.2,215.4 593.0,215.4" fill="none" stroke="#c4161e" stroke-width="1.8" stroke-linejoin="miter"/>
<polyline points="555.5,216.6 593.0,216.6" fill="none" stroke="#c4161e" stroke-width="2.2" stroke-linejoin="miter"/>
<polyline points="572.0,217.2 654.4,217.2" fill="none" stroke="#c4161e" stroke-width="1.6" stroke-linejoin="miter"/>
<line x1="389.4" y1="369.6" x2="649" y2="369.6" stroke="#ececec" stroke-width="1.2"/>
<line x1="389.4" y1="392.1" x2="649" y2="392.1" stroke="#ececec" stroke-width="1.2"/>
<line x1="389.4" y1="414.6" x2="649" y2="414.6" stroke="#ececec" stroke-width="1.2"/>
<line x1="389.4" y1="437.1" x2="649" y2="437.1" stroke="#ececec" stroke-width="1.2"/>
<line x1="389.4" y1="459.6" x2="649" y2="459.6" stroke="#ececec" stroke-width="1.2"/>
<line x1="389.4" y1="482.1" x2="649" y2="482.1" stroke="#ececec" stroke-width="1.2"/>
<line x1="389.4" y1="504.6" x2="649" y2="504.6" stroke="#cacaca" stroke-width="1.6"/>
<line x1="389.4" y1="504.6" x2="389.4" y2="354.2" stroke="#c4c4c4" stroke-width="1.5"/>
<polygon points="386.59999999999997,358.2 389.4,348.2 392.2,358.2" fill="#6a6a6a"/>
<line x1="385.4" y1="369.6" x2="389.4" y2="369.6" stroke="#8a8a8a" stroke-width="1"/>
<text transform="translate(384.4,373.0) scale(1,1.25)" text-anchor="end" class="tk" font-size="7.5">1200</text>
<line x1="385.4" y1="392.1" x2="389.4" y2="392.1" stroke="#8a8a8a" stroke-width="1"/>
<text transform="translate(384.4,395.5) scale(1,1.25)" text-anchor="end" class="tk" font-size="7.5">1000</text>
<line x1="385.4" y1="414.6" x2="389.4" y2="414.6" stroke="#8a8a8a" stroke-width="1"/>
<text transform="translate(384.4,418.0) scale(1,1.25)" text-anchor="end" class="tk" font-size="7.5">800</text>
<line x1="385.4" y1="437.1" x2="389.4" y2="437.1" stroke="#8a8a8a" stroke-width="1"/>
<text transform="translate(384.4,440.5) scale(1,1.25)" text-anchor="end" class="tk" font-size="7.5">600</text>
<line x1="385.4" y1="459.6" x2="389.4" y2="459.6" stroke="#8a8a8a" stroke-width="1"/>
<text transform="translate(384.4,463.0) scale(1,1.25)" text-anchor="end" class="tk" font-size="7.5">400</text>
<line x1="385.4" y1="482.1" x2="389.4" y2="482.1" stroke="#8a8a8a" stroke-width="1"/>
<text transform="translate(384.4,485.5) scale(1,1.25)" text-anchor="end" class="tk" font-size="7.5">200</text>
<line x1="385.4" y1="504.6" x2="389.4" y2="504.6" stroke="#8a8a8a" stroke-width="1"/>
<text transform="translate(384.4,508.0) scale(1,1.25)" text-anchor="end" class="tk" font-size="7.5">0</text>
<line x1="387.4" y1="499.0" x2="389.4" y2="499.0" stroke="#8a8a8a" stroke-width="0.9"/>
<line x1="387.4" y1="493.4" x2="389.4" y2="493.4" stroke="#8a8a8a" stroke-width="0.9"/>
<line x1="387.4" y1="487.7" x2="389.4" y2="487.7" stroke="#8a8a8a" stroke-width="0.9"/>
<line x1="387.4" y1="476.5" x2="389.4" y2="476.5" stroke="#8a8a8a" stroke-width="0.9"/>
<line x1="387.4" y1="470.9" x2="389.4" y2="470.9" stroke="#8a8a8a" stroke-width="0.9"/>
<line x1="387.4" y1="465.2" x2="389.4" y2="465.2" stroke="#8a8a8a" stroke-width="0.9"/>
<line x1="387.4" y1="454.0" x2="389.4" y2="454.0" stroke="#8a8a8a" stroke-width="0.9"/>
<line x1="387.4" y1="448.4" x2="389.4" y2="448.4" stroke="#8a8a8a" stroke-width="0.9"/>
<line x1="387.4" y1="442.7" x2="389.4" y2="442.7" stroke="#8a8a8a" stroke-width="0.9"/>
<line x1="387.4" y1="431.5" x2="389.4" y2="431.5" stroke="#8a8a8a" stroke-width="0.9"/>
<line x1="387.4" y1="425.9" x2="389.4" y2="425.9" stroke="#8a8a8a" stroke-width="0.9"/>
<line x1="387.4" y1="420.2" x2="389.4" y2="420.2" stroke="#8a8a8a" stroke-width="0.9"/>
<line x1="387.4" y1="409.0" x2="389.4" y2="409.0" stroke="#8a8a8a" stroke-width="0.9"/>
<line x1="387.4" y1="403.4" x2="389.4" y2="403.4" stroke="#8a8a8a" stroke-width="0.9"/>
<line x1="387.4" y1="397.7" x2="389.4" y2="397.7" stroke="#8a8a8a" stroke-width="0.9"/>
<line x1="387.4" y1="386.5" x2="389.4" y2="386.5" stroke="#8a8a8a" stroke-width="0.9"/>
<line x1="387.4" y1="380.9" x2="389.4" y2="380.9" stroke="#8a8a8a" stroke-width="0.9"/>
<line x1="387.4" y1="375.2" x2="389.4" y2="375.2" stroke="#8a8a8a" stroke-width="0.9"/>
<line x1="387.4" y1="364.0" x2="389.4" y2="364.0" stroke="#8a8a8a" stroke-width="0.9"/>
<line x1="387.4" y1="358.4" x2="389.4" y2="358.4" stroke="#8a8a8a" stroke-width="0.9"/>
<line x1="396.6" y1="504.6" x2="396.6" y2="508.6" stroke="#9a9a9a" stroke-width="1"/>
<text transform="translate(399.5,509) rotate(-90) scale(1.2,1)" text-anchor="end" class="tk" font-size="8">lon6</text>
<line x1="410.3" y1="504.6" x2="410.3" y2="508.6" stroke="#9a9a9a" stroke-width="1"/>
<text transform="translate(413.2,509) rotate(-90) scale(1.2,1)" text-anchor="end" class="tk" font-size="8">lon7</text>
<line x1="424.0" y1="504.6" x2="424.0" y2="508.6" stroke="#9a9a9a" stroke-width="1"/>
<text transform="translate(426.9,509) rotate(-90) scale(1.2,1)" text-anchor="end" class="tk" font-size="8">lon9</text>
<line x1="437.7" y1="504.6" x2="437.7" y2="508.6" stroke="#9a9a9a" stroke-width="1"/>
<text transform="translate(440.6,509) rotate(-90) scale(1.2,1)" text-anchor="end" class="tk" font-size="8">lon2</text>
<line x1="451.4" y1="504.6" x2="451.4" y2="508.6" stroke="#9a9a9a" stroke-width="1"/>
<text transform="translate(454.2,509) rotate(-90) scale(1.2,1)" text-anchor="end" class="tk" font-size="8">lon4</text>
<line x1="465.1" y1="504.6" x2="465.1" y2="508.6" stroke="#9a9a9a" stroke-width="1"/>
<text transform="translate(467.9,509) rotate(-90) scale(1.2,1)" text-anchor="end" class="tk" font-size="8">lon1</text>
<line x1="478.7" y1="504.6" x2="478.7" y2="508.6" stroke="#9a9a9a" stroke-width="1"/>
<text transform="translate(481.6,509) rotate(-90) scale(1.2,1)" text-anchor="end" class="tk" font-size="8">lon3</text>
<line x1="492.4" y1="504.6" x2="492.4" y2="508.6" stroke="#9a9a9a" stroke-width="1"/>
<text transform="translate(495.3,509) rotate(-90) scale(1.2,1)" text-anchor="end" class="tk" font-size="8">lon8</text>
<line x1="506.1" y1="504.6" x2="506.1" y2="508.6" stroke="#9a9a9a" stroke-width="1"/>
<text transform="translate(509.0,509) rotate(-90) scale(1.2,1)" text-anchor="end" class="tk" font-size="8">lon5</text>
<line x1="519.8" y1="504.6" x2="519.8" y2="508.6" stroke="#9a9a9a" stroke-width="1"/>
<text transform="translate(522.7,509) rotate(-90) scale(1.2,1)" text-anchor="end" class="tk" font-size="8">let3</text>
<line x1="533.5" y1="504.6" x2="533.5" y2="508.6" stroke="#9a9a9a" stroke-width="1"/>
<text transform="translate(536.4,509) rotate(-90) scale(1.2,1)" text-anchor="end" class="tk" font-size="8">let6</text>
<line x1="547.2" y1="504.6" x2="547.2" y2="508.6" stroke="#9a9a9a" stroke-width="1"/>
<text transform="translate(550.1,509) rotate(-90) scale(1.2,1)" text-anchor="end" class="tk" font-size="8">let7</text>
<line x1="560.9" y1="504.6" x2="560.9" y2="508.6" stroke="#9a9a9a" stroke-width="1"/>
<text transform="translate(563.8,509) rotate(-90) scale(1.2,1)" text-anchor="end" class="tk" font-size="8">let9</text>
<line x1="574.6" y1="504.6" x2="574.6" y2="508.6" stroke="#9a9a9a" stroke-width="1"/>
<text transform="translate(577.5,509) rotate(-90) scale(1.2,1)" text-anchor="end" class="tk" font-size="8">let2</text>
<line x1="588.3" y1="504.6" x2="588.3" y2="508.6" stroke="#9a9a9a" stroke-width="1"/>
<text transform="translate(591.1,509) rotate(-90) scale(1.2,1)" text-anchor="end" class="tk" font-size="8">let1</text>
<line x1="602.0" y1="504.6" x2="602.0" y2="508.6" stroke="#9a9a9a" stroke-width="1"/>
<text transform="translate(604.8,509) rotate(-90) scale(1.2,1)" text-anchor="end" class="tk" font-size="8">let5</text>
<line x1="615.6" y1="504.6" x2="615.6" y2="508.6" stroke="#9a9a9a" stroke-width="1"/>
<text transform="translate(618.5,509) rotate(-90) scale(1.2,1)" text-anchor="end" class="tk" font-size="8">let8</text>
<line x1="629.3" y1="504.6" x2="629.3" y2="508.6" stroke="#9a9a9a" stroke-width="1"/>
<text transform="translate(632.2,509) rotate(-90) scale(1.2,1)" text-anchor="end" class="tk" font-size="8">let4</text>
<line x1="643.0" y1="504.6" x2="643.0" y2="508.6" stroke="#9a9a9a" stroke-width="1"/>
<text transform="translate(645.9,509) rotate(-90) scale(1.2,1)" text-anchor="end" class="tk" font-size="8">let10</text>
<polyline points="423.0,348.0 542.6,348.0" fill="none" stroke="#2a2a2a" stroke-width="2" stroke-linejoin="miter"/>
<polyline points="423.0,348.0 423.0,499.3" fill="none" stroke="#5cb85c" stroke-width="1.7" stroke-linejoin="miter"/>
<polyline points="402.4,503.0 402.4,499.3 442.1,499.3 442.1,501.2" fill="none" stroke="#5cb85c" stroke-width="1.7" stroke-linejoin="miter"/>
<polyline points="396.4,504.6 396.4,503.0 409.6,503.0 409.6,504.6" fill="none" stroke="#5cb85c" stroke-width="1.7" stroke-linejoin="miter"/>
<polyline points="423.5,504.6 423.5,501.2 460.0,501.2" fill="none" stroke="#5cb85c" stroke-width="1.7" stroke-linejoin="miter"/>
<polyline points="437.8,502.5 460.7,502.5" fill="none" stroke="#5cb85c" stroke-width="2" stroke-linejoin="miter"/>
<polyline points="452.0,503.2 506.0,503.2" fill="none" stroke="#5cb85c" stroke-width="1.6" stroke-linejoin="miter"/>
<polyline points="542.6,348.0 542.6,502.4" fill="none" stroke="#4a5cc0" stroke-width="1.8" stroke-linejoin="miter"/>
<polyline points="519.5,504.6 519.5,502.4 560.0,502.4" fill="none" stroke="#4a5cc0" stroke-width="1.8" stroke-linejoin="miter"/>
<polyline points="533.0,503.2 580.0,503.2" fill="none" stroke="#4a5cc0" stroke-width="1.8" stroke-linejoin="miter"/>
<polyline points="575.0,503.6 643.0,503.6" fill="none" stroke="#4a5cc0" stroke-width="1.6" stroke-linejoin="miter"/>
<text x="35.6" y="13.8" class="tt" font-size="14.5" textLength="250.8" lengthAdjust="spacingAndGlyphs"><tspan font-style="italic">A. lettyae</tspan><tspan font-style="normal"> vs </tspan><tspan font-style="italic">A. longibracteata</tspan><tspan font-style="normal"> (PCA-X)</tspan></text>
<text x="383" y="13.7" class="tt" font-size="14.5" textLength="249" lengthAdjust="spacingAndGlyphs"><tspan font-style="italic">A. lettyae vs A. longibracteata</tspan><tspan font-style="normal"> (PCA-X)</tspan></text>
<text x="382.6" y="31.8" class="tt" font-size="15.2" textLength="150" lengthAdjust="spacingAndGlyphs"><tspan font-style="normal">Hierarchical clustering</tspan></text>
<text x="26.2" y="303.6" class="tt" font-size="14" textLength="269" lengthAdjust="spacingAndGlyphs"><tspan font-style="italic">A. lettyae</tspan><tspan font-style="normal"> v s </tspan><tspan font-style="italic">A. longibracteata</tspan><tspan font-style="normal"> (OPLS-DA)</tspan></text>
<text x="374.4" y="289.9" class="tt" font-size="14" textLength="269.6" lengthAdjust="spacingAndGlyphs"><tspan font-style="italic">A. lettyae vs A. longibracteata</tspan><tspan font-style="normal"> (OPLS-DA)</tspan></text>
<text x="374.4" y="306.2" class="tt" font-size="14.6" textLength="149.4" lengthAdjust="spacingAndGlyphs"><tspan font-style="normal">Hierarchical clustering</tspan></text>
<text x="0" y="40" class="lab" font-size="22">a</text>
<text x="-1" y="320.3" class="lab" font-size="21">b</text>
<text x="359" y="43.8" class="lab" font-size="22.5">c</text>
<text x="349.8" y="320.3" class="lab" font-size="20">d</text>
<circle cx="549.5" cy="340.7" r="0.8" fill="#888"/>
<polyline points="352,268 352,55.5 372,55.5" fill="none" stroke="#f6f6f6" stroke-width="1"/>
<line x1="352" y1="268" x2="668" y2="268" stroke="#f7f7f7" stroke-width="1"/>
<circle cx="6" cy="390" r="0.8" fill="#7088c0"/>
<circle cx="6" cy="397" r="0.8" fill="#7088c0"/>
<rect x="418.0" y="528.4" width="1.6" height="1.6" fill="#555"/>
<rect x="432.9" y="528.4" width="1.6" height="1.6" fill="#555"/>
<rect x="454.8" y="528.4" width="1.6" height="1.6" fill="#555"/>
<rect x="468.0" y="528.4" width="1.6" height="1.6" fill="#555"/>
<rect x="475.9" y="528.4" width="1.6" height="1.6" fill="#555"/>
<rect x="503.9" y="528.4" width="1.6" height="1.6" fill="#555"/>
<rect x="523.2" y="528.4" width="1.6" height="1.6" fill="#555"/>
</svg>
</body></html>
